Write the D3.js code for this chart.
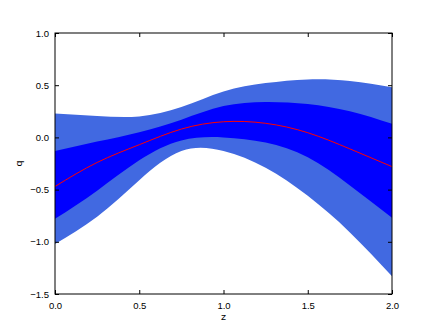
<!DOCTYPE html>
<html>
<head>
<meta charset="utf-8">
<script src="https://cdn.jsdelivr.net/npm/d3@7.9.0/dist/d3.min.js"></script>
<style>
  body { margin: 0; background: #fff; }
  svg { display: block; font-family: "DejaVu Sans", sans-serif; }
  .tick text { font-size: 9.5px; fill: #000; }
</style>
</head>
<body>
<div id="chart"></div>
<script>
// ------------------- Data -------------------
const zVals = [0, 0.25, 0.5, 0.75, 1.0, 1.25, 1.5, 1.75, 2.0];
const meanVals = [-0.47, -0.24, -0.07, 0.08, 0.15, 0.135, 0.045, -0.11, -0.28];
const innerUpper = [-0.13, -0.04, 0.05, 0.17, 0.30, 0.34, 0.32, 0.25, 0.13];
const innerLower = [-0.78, -0.51, -0.22, -0.03, 0.0, -0.05, -0.19, -0.46, -0.77];
const outerUpper = [0.23, 0.205, 0.20, 0.29, 0.44, 0.52, 0.555, 0.54, 0.48];
const outerLower = [-1.02, -0.76, -0.41, -0.13, -0.13, -0.29, -0.56, -0.91, -1.33];
const xTicks = [0, 0.5, 1.0, 1.5, 2.0];
const yTicks = [-1.5, -1.0, -0.5, 0.0, 0.5, 1.0];

// ------------------- Layout -------------------
const width = 436, height = 327;
const margin = { top: 33, right: 44, bottom: 33, left: 55 };
const plot = {
  left: margin.left,
  right: width - margin.right,
  top: margin.top,
  bottom: height - margin.bottom
};

const svg = d3.select('#chart')
  .append('svg')
  .attr('width', width)
  .attr('height', height);

const xScale = d3.scaleLinear().domain([0, 2]).range([plot.left, plot.right]);
const yScale = d3.scaleLinear().domain([-1.5, 1.0]).range([plot.bottom, plot.top]);

const rows = zVals.map((z, i) => ({
  z,
  mean: meanVals[i],
  iu: innerUpper[i], il: innerLower[i],
  ou: outerUpper[i], ol: outerLower[i]
}));

svg.append('defs').append('clipPath').attr('id', 'clip')
  .append('rect')
  .attr('x', plot.left).attr('y', plot.top)
  .attr('width', plot.right - plot.left).attr('height', plot.bottom - plot.top);

const g = svg.append('g').attr('clip-path', 'url(#clip)');

// ------------------- Bands -------------------
const outerArea = d3.area()
  .curve(d3.curveNatural)
  .x(d => xScale(d.z))
  .y0(d => yScale(d.ol))
  .y1(d => yScale(d.ou));

const innerArea = d3.area()
  .curve(d3.curveNatural)
  .x(d => xScale(d.z))
  .y0(d => yScale(d.il))
  .y1(d => yScale(d.iu));

g.append('path').datum(rows)
  .attr('d', outerArea)
  .attr('fill', '#4169e1');

g.append('path').datum(rows)
  .attr('d', innerArea)
  .attr('fill', '#0000ff');

const meanLine = d3.line()
  .curve(d3.curveNatural)
  .x(d => xScale(d.z))
  .y(d => yScale(d.mean));

g.append('path').datum(rows)
  .attr('d', meanLine)
  .attr('fill', 'none')
  .attr('stroke', '#ff0000')
  .attr('stroke-width', 1);

// ------------------- Axes -------------------
svg.append('g')
  .attr('transform', `translate(0,${plot.bottom})`)
  .call(d3.axisBottom(xScale).tickValues(xTicks).tickFormat(d3.format('.1f'))
    .tickSizeInner(-4).tickSizeOuter(0).tickPadding(8))
  .call(a => a.select('.domain').remove());

svg.append('g')
  .attr('transform', `translate(0,${plot.top})`)
  .call(d3.axisTop(xScale).tickValues(xTicks).tickFormat('')
    .tickSizeInner(-4).tickSizeOuter(0))
  .call(a => a.select('.domain').remove());

svg.append('g')
  .attr('transform', `translate(${plot.left},0)`)
  .call(d3.axisLeft(yScale).tickValues(yTicks).tickFormat(d => d3.format('.1f')(d).replace('-', '\u2212'))
    .tickSizeInner(-4).tickSizeOuter(0).tickPadding(6))
  .call(a => a.select('.domain').remove());

svg.append('g')
  .attr('transform', `translate(${plot.right},0)`)
  .call(d3.axisRight(yScale).tickValues(yTicks).tickFormat('')
    .tickSizeInner(-4).tickSizeOuter(0))
  .call(a => a.select('.domain').remove());

svg.append('rect')
  .attr('x', plot.left).attr('y', plot.top)
  .attr('width', plot.right - plot.left).attr('height', plot.bottom - plot.top)
  .attr('fill', 'none')
  .attr('stroke', '#000')
  .attr('stroke-width', 1);

// axis labels
svg.append('text')
  .attr('x', (plot.left + plot.right) / 2)
  .attr('y', plot.bottom + 26)
  .attr('text-anchor', 'middle')
  .attr('font-size', 9.5)
  .text('z');

svg.append('text')
  .attr('transform', `translate(${plot.left - 33},${(plot.top + plot.bottom) / 2}) rotate(-90)`)
  .attr('text-anchor', 'middle')
  .attr('font-size', 9.5)
  .text('q');
</script>
</body>
</html>
